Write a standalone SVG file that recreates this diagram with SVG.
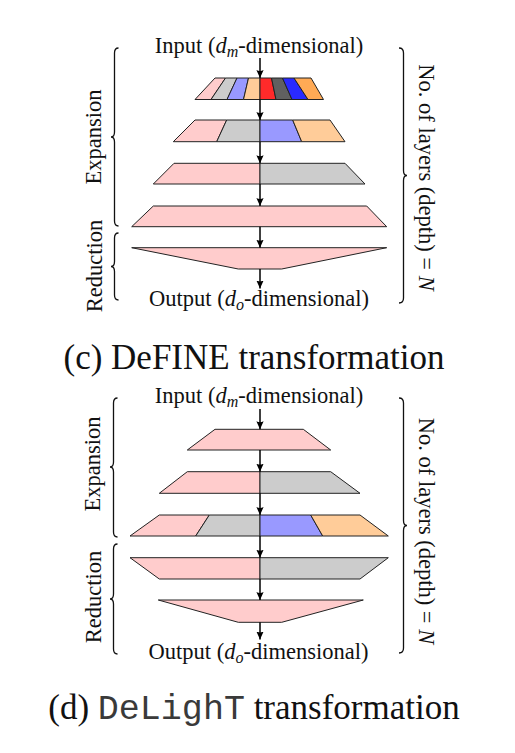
<svg xmlns="http://www.w3.org/2000/svg" width="515" height="753" viewBox="0 0 515 753">
<style>
.t{font-family:"Liberation Serif",Tinos,"Times New Roman",Times,"Nimbus Roman","DejaVu Serif",serif;fill:#111}
.lbl{font-size:22.5px}
.cap{font-size:35px}
.mono{font-family:"Liberation Mono",Cousine,"Courier New","Nimbus Mono PS",FreeMono,monospace;fill:#3a3a3a}
.it{font-style:italic}
.s{stroke:#222;stroke-width:1;stroke-linejoin:round}
.pk{fill:#FFCCCC}.gy{fill:#CCCCCC}.lb{fill:#9999FF}.lo{fill:#FFCC99}
.rd{fill:#FF2A2A}.dg{fill:#606060}.bl{fill:#2A2AFF}.or{fill:#FFAA55}
.br{fill:none;stroke:#111;stroke-width:1.3}
.ar{stroke:#000;stroke-width:1.5;marker-end:url(#ah)}
</style>
<defs>
<marker id="ah" viewBox="0 0 10 10" refX="10" refY="5" markerWidth="8" markerHeight="8" markerUnits="userSpaceOnUse" orient="auto">
<path d="M0,0.5 L10,5 L0,9.5 Q2.2,5 0,0.5Z" fill="#000"/>
</marker>
</defs>

<!-- (c) DeFINE -->
<g id="c-input"><text class="t lbl" x="259" y="53" text-anchor="middle">Input (<tspan class="it">d</tspan><tspan class="it" font-size="16" dy="4">m</tspan><tspan dy="-4">-dimensional)</tspan></text></g>
<g id="c-layer1">
<polygon class="s pk" points="215,78 225.5,78 211,99.5 195,99.5"/>
<polygon class="s gy" points="225.5,78 237,78 227,99.5 211,99.5"/>
<polygon class="s lb" points="237,78 248.5,78 243.5,99.5 227,99.5"/>
<polygon class="s lo" points="248.5,78 260,78 260,99.5 243.5,99.5"/>
<polygon class="s rd" points="260,78 271.5,78 276,99.5 260,99.5"/>
<polygon class="s dg" points="271.5,78 282.5,78 292,99.5 276,99.5"/>
<polygon class="s bl" points="282.5,78 294,78 308,99.5 292,99.5"/>
<polygon class="s or" points="294,78 311,78 323.5,99.5 308,99.5"/>
</g>
<g id="c-layer2">
<polygon class="s pk" points="195,120 226.7,120 216.7,141.7 173.3,141.7"/>
<polygon class="s gy" points="226.7,120 260,120 260,141.7 216.7,141.7"/>
<polygon class="s lb" points="260,120 292.7,120 301.7,141.7 260,141.7"/>
<polygon class="s lo" points="292.7,120 330,120 345,141.7 301.7,141.7"/>
</g>
<g id="c-layer3">
<polygon class="s pk" points="174,163.3 260,163.3 260,184 153.3,184"/>
<polygon class="s gy" points="260,163.3 345,163.3 365,184 260,184"/>
</g>
<g id="c-layer4">
<polygon class="s pk" points="153.3,206 366.7,206 386.7,226.7 131.7,226.7"/>
</g>
<g id="c-layer5">
<polygon class="s pk" points="131.7,247.7 386.7,247.7 281.7,269 238.3,269"/>
</g>
<g id="c-output"><text class="t lbl" x="259" y="306" text-anchor="middle">Output (<tspan class="it">d</tspan><tspan class="it" font-size="16" dy="4">o</tspan><tspan dy="-4">-dimensional)</tspan></text></g>
<g id="c-expansion">
<path class="br" d="M118.5,48 Q114.5,48 114.5,53 L114.5,132 Q114.5,137 111,137 Q114.5,137 114.5,142 L114.5,221 Q114.5,226 118.5,226"/>
<text class="t lbl" transform="translate(101,137) rotate(-90)" text-anchor="middle">Expansion</text>
</g>
<g id="c-reduction">
<path class="br" d="M118.5,233 Q114.5,233 114.5,238 L114.5,261.5 Q114.5,266.5 111,266.5 Q114.5,266.5 114.5,271.5 L114.5,295 Q114.5,300 118.5,300"/>
<text class="t lbl" transform="translate(102,266) rotate(-90)" text-anchor="middle">Reduction</text>
</g>
<g id="c-depth">
<path class="br" d="M399,48 Q403.5,48 403.5,53 L403.5,170.5 Q403.5,175.5 407,175.5 Q403.5,175.5 403.5,180.5 L403.5,298 Q403.5,303 399,303"/>
<text class="t lbl" transform="translate(418.5,177.5) rotate(90)" text-anchor="middle">No. of layers (depth) = <tspan class="it">N</tspan></text>
</g>
<g id="c-caption"><text class="t cap" x="254" y="369" text-anchor="middle">(c) DeFINE transformation</text></g>

<!-- (d) DeLighT -->
<g id="d-input"><text class="t lbl" x="259" y="403" text-anchor="middle">Input (<tspan class="it">d</tspan><tspan class="it" font-size="16" dy="4">m</tspan><tspan dy="-4">-dimensional)</tspan></text></g>
<g id="d-layer1">
<polygon class="s pk" points="215,429.3 303.3,429.3 330.7,450 187.3,450"/>
</g>
<g id="d-layer2">
<polygon class="s pk" points="187.3,471.7 260,471.7 260,493.3 159.3,493.3"/>
<polygon class="s gy" points="260,471.7 330.7,471.7 360,493.3 260,493.3"/>
</g>
<g id="d-layer3">
<polygon class="s pk" points="159.3,515 209.3,515 195.7,536 130,536"/>
<polygon class="s gy" points="209.3,515 260,515 260,536 195.7,536"/>
<polygon class="s lb" points="260,515 310.7,515 322.7,536 260,536"/>
<polygon class="s lo" points="310.7,515 360,515 388.3,536 322.7,536"/>
</g>
<g id="d-layer4">
<polygon class="s pk" points="130,557.7 260,557.7 260,579 159.3,579"/>
<polygon class="s gy" points="260,557.7 388.3,557.7 360,579 260,579"/>
</g>
<g id="d-layer5">
<polygon class="s pk" points="158.3,600 363.3,600 281.7,622.3 238.3,622.3"/>
</g>
<g id="d-output"><text class="t lbl" x="258.5" y="659" text-anchor="middle">Output (<tspan class="it">d</tspan><tspan class="it" font-size="16" dy="4">o</tspan><tspan dy="-4">-dimensional)</tspan></text></g>
<g id="d-expansion">
<path class="br" d="M117.5,398 Q113.5,398 113.5,403 L113.5,462 Q113.5,467 110,467 Q113.5,467 113.5,472 L113.5,532 Q113.5,537 117.5,537"/>
<text class="t lbl" transform="translate(100,464) rotate(-90)" text-anchor="middle">Expansion</text>
</g>
<g id="d-reduction">
<path class="br" d="M117.5,544 Q113.5,544 113.5,549 L113.5,594 Q113.5,599 110,599 Q113.5,599 113.5,604 L113.5,649 Q113.5,654 117.5,654"/>
<text class="t lbl" transform="translate(101,597) rotate(-90)" text-anchor="middle">Reduction</text>
</g>
<g id="d-depth">
<path class="br" d="M399,398 Q403.5,398 403.5,403 L403.5,520.5 Q403.5,525.5 407,525.5 Q403.5,525.5 403.5,530.5 L403.5,648 Q403.5,653 399,653"/>
<text class="t lbl" transform="translate(419,531) rotate(90)" text-anchor="middle">No. of layers (depth) = <tspan class="it">N</tspan></text>
</g>
<g id="d-caption"><text class="t cap" x="254" y="719" text-anchor="middle">(d) <tspan class="mono">DeLighT</tspan> transformation</text></g>

<!-- connectors -->
<g id="connectors">
<line class="ar" x1="260" y1="58" x2="260" y2="78"/>
<line class="ar" x1="260" y1="99.5" x2="260" y2="120"/>
<line class="ar" x1="260" y1="141.7" x2="260" y2="163.3"/>
<line class="ar" x1="260" y1="184" x2="260" y2="206"/>
<line class="ar" x1="260" y1="226.7" x2="260" y2="247.7"/>
<line class="ar" x1="260" y1="269" x2="260" y2="288.5"/>
<line class="ar" x1="260" y1="409" x2="260" y2="429.3"/>
<line class="ar" x1="260" y1="450" x2="260" y2="471.7"/>
<line class="ar" x1="260" y1="493.3" x2="260" y2="515"/>
<line class="ar" x1="260" y1="536" x2="260" y2="557.7"/>
<line class="ar" x1="260" y1="579" x2="260" y2="600"/>
<line class="ar" x1="260" y1="622.3" x2="260" y2="639.5"/>
</g>
</svg>
